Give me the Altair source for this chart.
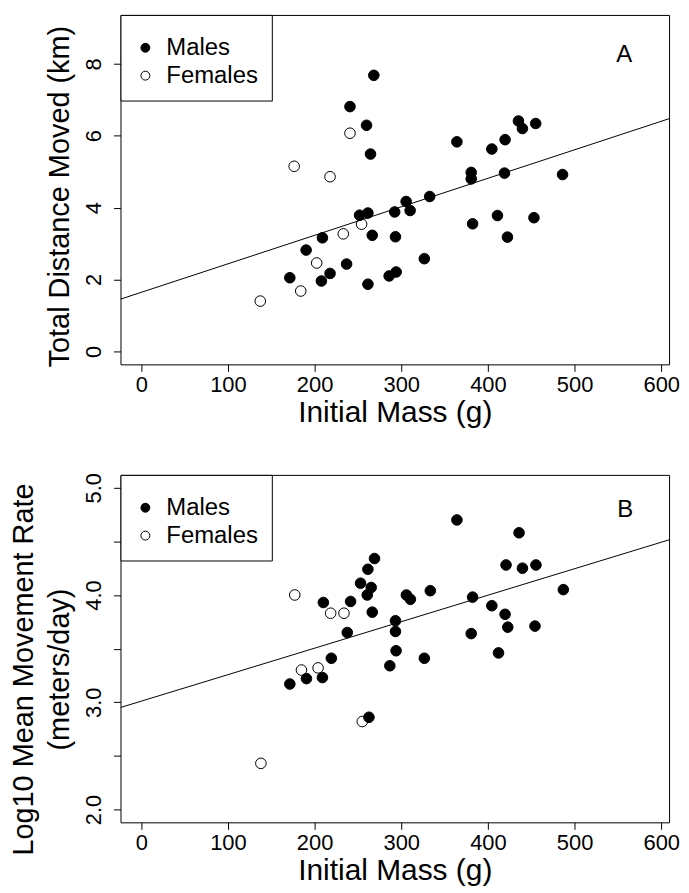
import altair as alt
import pandas as pd

FONT = "Liberation Sans"

# ---------------- Panel A: Total distance moved (km) ----------------
a_male_mass = [171.4, 190.2, 207.8, 209.0, 217.8, 236.9, 240.8, 251.9, 259.9, 261.5,
               261.5, 264.5, 266.5, 268.3, 286.0, 292.4, 293.3, 294.1, 305.6, 310.2,
               326.6, 332.8, 364.2, 380.7, 380.7, 382.3, 404.5, 411.0, 419.1, 419.8,
               422.5, 435.2, 439.8, 453.1, 455.1, 486.1]
a_male_dist = [2.05, 2.82, 1.96, 3.16, 2.17, 2.43, 6.81, 3.79, 6.29, 3.85,
               1.87, 5.49, 3.23, 7.68, 2.10, 3.88, 3.19, 2.21, 4.17, 3.92,
               2.58, 4.31, 5.83, 4.98, 4.80, 3.55, 5.63, 3.78, 4.96, 5.89,
               3.18, 6.41, 6.20, 3.72, 6.34, 4.92]
a_female_mass = [137.3, 176.4, 184.0, 202.4, 217.8, 233.1, 240.8, 254.2]
a_female_dist = [1.40, 5.15, 1.68, 2.46, 4.86, 3.27, 6.07, 3.54]

# ---------------- Panel B: Log10 mean movement rate ----------------
b_male_mass = [171.4, 190.6, 209.0, 210.1, 219.3, 237.7, 241.5, 253.0, 260.7, 261.5,
               262.7, 265.3, 266.5, 269.1, 286.8, 293.3, 293.3, 294.0, 305.9, 310.5,
               326.6, 333.5, 364.2, 380.7, 382.3, 404.5, 412.2, 419.8, 420.9, 422.9,
               435.9, 439.8, 454.3, 455.4, 487.0]
b_male_rate = [3.17, 3.22, 3.23, 3.93, 3.41, 3.65, 3.94, 4.11, 4.00, 4.24,
               2.86, 4.07, 3.84, 4.34, 3.34, 3.76, 3.66, 3.48, 4.00, 3.96,
               3.41, 4.04, 4.70, 3.64, 3.98, 3.90, 3.46, 3.82, 4.28, 3.70,
               4.58, 4.25, 3.71, 4.28, 4.05]
b_female_mass = [138.0, 177.1, 184.8, 204.0, 218.5, 233.9, 255.0]
b_female_rate = [2.43, 4.00, 3.30, 3.32, 3.83, 3.83, 2.82]

# fitted lines (intercept, slope)
a_fit = (1.644, 0.00793)
b_fit = (3.010, 0.00247)

sex_labels = ["Males", "Females"]
x_ticks = [0, 100, 200, 300, 400, 500, 600]
a_y_ticks = [0, 2, 4, 6, 8]
b_y_ticks = [2.0, 2.5, 3.0, 3.5, 4.0, 4.5, 5.0]

x_domain = [-24, 609]
a_y_domain = [-0.36, 9.36]
b_y_domain = [1.88, 5.12]

PLOT_W = 551


def points_df(fm, fv, mm, mv):
    return pd.DataFrame({
        "mass": fm + mm,
        "val": fv + mv,
        "sex": ["Females"] * len(fm) + ["Males"] * len(mm),
    })


def fit_df(fit):
    return pd.DataFrame({"mass": x_domain,
                         "val": [fit[0] + fit[1] * m for m in x_domain]})


def panel(df, fitdf, ydom, yticks, ytitle, title_y, letter, letter_xy, height, label_expr):
    x = alt.X("mass:Q",
              scale=alt.Scale(domain=x_domain, nice=False, zero=False),
              axis=alt.Axis(values=x_ticks, title="Initial Mass (g)", labelFlush=False))
    y = alt.Y("val:Q",
              scale=alt.Scale(domain=ydom, nice=False, zero=False),
              axis=alt.Axis(values=yticks, title=ytitle, titleY=title_y, labelExpr=label_expr,
                            labelOverlap=False, labelFlush=False))
    line = alt.Chart(fitdf).mark_line(color="black", strokeWidth=1, clip=True).encode(x=x, y=y)
    pts = alt.Chart(df).mark_circle(size=113, stroke="black", strokeWidth=1, opacity=1).encode(
        x=x, y=y,
        fill=alt.Fill("sex:N",
                      scale=alt.Scale(domain=sex_labels, range=["black", "transparent"]),
                      legend=alt.Legend(title=" ", titleFontSize=3, titlePadding=5,
                                        orient="none", legendX=0, legendY=0,
                                        padding=13, strokeColor="black", fillColor="white",
                                        labelFont=FONT, labelFontSize=24, labelColor="black",
                                        symbolSize=80, symbolType="circle",
                                        symbolStrokeColor="black", symbolStrokeWidth=1,
                                        labelOffset=9, rowPadding=4)),
    )
    txt = alt.Chart(pd.DataFrame({"t": [letter]})).mark_text(
        font=FONT, fontSize=24, color="black", align="center", baseline="middle"
    ).encode(x=alt.value(letter_xy[0]), y=alt.value(letter_xy[1]), text="t:N")
    return alt.layer(line, pts, txt).properties(width=PLOT_W, height=height)


top = panel(points_df(a_female_mass, a_female_dist, a_male_mass, a_male_dist),
            fit_df(a_fit), a_y_domain, a_y_ticks, "Total Distance Moved (km)", 182,
            "A", (506, 40), 351, "datum.label")
bottom = panel(points_df(b_female_mass, b_female_rate, b_male_mass, b_male_rate),
               fit_df(b_fit), b_y_domain, b_y_ticks,
               ["Log10 Mean Movement Rate", "(meters/day)"], 195,
               "B", (507, 35), 349,
               "datum.value % 1 === 0 ? format(datum.value, '.1f') : ''")

chart = alt.vconcat(top, bottom, spacing=44).resolve_legend(fill="independent").properties(
    padding={"left": 1, "top": 4, "right": 0, "bottom": 0},
    background="white",
).configure_view(stroke="black", strokeWidth=1).configure_axis(
    domain=False, grid=False, tickColor="black", tickSize=7, tickWidth=1,
    labelFont=FONT, labelFontSize=22, labelColor="black",
    titleFont=FONT, titleFontWeight="normal", titleColor="black",
).configure_axisX(labelPadding=3, titlePadding=2, titleFontSize=30).configure_axisY(
    labelAngle=270, labelAlign="center", labelBaseline="alphabetic",
    labelPadding=13, titlePadding=8, titleLineHeight=36, titleFontSize=29,
)

chart.save("out.html", embed_options={"renderer": "svg", "actions": False})
